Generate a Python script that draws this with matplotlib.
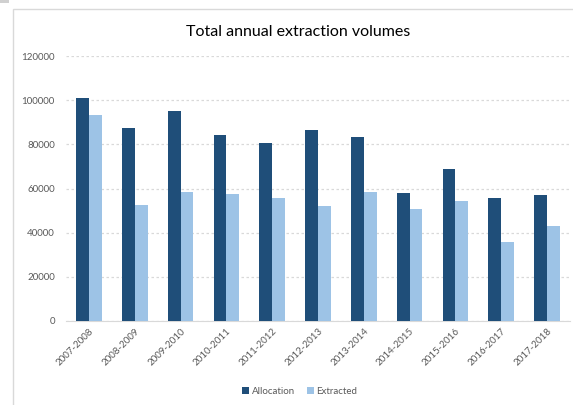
import numpy as np
import matplotlib
matplotlib.use("Agg")
from matplotlib import pyplot as plt
from matplotlib.patches import Rectangle

seasons = ["2007-2008", "2008-2009", "2009-2010", "2010-2011", "2011-2012", "2012-2013",
           "2013-2014", "2014-2015", "2015-2016", "2016-2017", "2017-2018"]
allocation = [100800, 87200, 95100, 84200, 80600, 86300, 83500, 58100, 68700, 55800, 56900]
extracted = [93300, 52500, 58300, 57500, 55500, 52200, 58300, 50900, 54300, 35900, 43000]
yticks = [0, 20000, 40000, 60000, 80000, 100000, 120000]

plt.rcParams['font.family'] = ['Lato', 'DejaVu Sans']

fig = plt.figure(figsize=(5.73, 4.05), dpi=100)
# chart frame (cut off at the right and bottom) and a scrap of grey in the corner
fig.patches.append(Rectangle((13/573, -0.1), 1.1, 1 - 9/405 + 0.1, transform=fig.transFigure,
                             fill=False, edgecolor="#d9d9d9", lw=1))
fig.patches.append(Rectangle((0, 1 - 3/405), 9/573, 3/405, transform=fig.transFigure,
                             color="#d0d0d0", lw=0))

ax = fig.add_axes([66/573, 84/405, 504/573, 265/405])
x = np.arange(len(seasons))
w = 0.28
ax.bar(x - w/2, allocation, w, color="#1f4e79", label="Allocation", zorder=3)
ax.bar(x + w/2, extracted, w, color="#9dc3e6", label="Extracted", zorder=3)

ax.set_xlim(-0.5, len(seasons) - 0.5)
ax.set_ylim(0, 120000)
ax.set_yticks(yticks)
ax.set_yticklabels([str(v) for v in yticks], fontsize=7, color="#595959")
ax.set_xticks(x)
ax.set_xticklabels(seasons, rotation=45, ha="right", rotation_mode="anchor",
                   fontsize=7, color="#595959")
ax.tick_params(length=0, pad=8)
ax.tick_params(axis="x", pad=4)
ax.grid(axis="y", color="#d9d9d9", linestyle=(0, (2, 2)), lw=0.9, zorder=0)
for s in ["top", "right", "left"]:
    ax.spines[s].set_visible(False)
ax.spines["bottom"].set_color("#d9d9d9")

fig.text(298/573, 1 - 32/405, "Total annual extraction volumes", ha="center", va="center",
         fontsize=11.5, color="#000000")
fig.legend(loc="center", bbox_to_anchor=(300/573, 14/405), ncol=2, frameon=False,
           fontsize=7, handlelength=0.7, handleheight=0.7, columnspacing=1.2,
           handletextpad=0.3, labelcolor="#595959")

plt.savefig("out.png", dpi=100)
